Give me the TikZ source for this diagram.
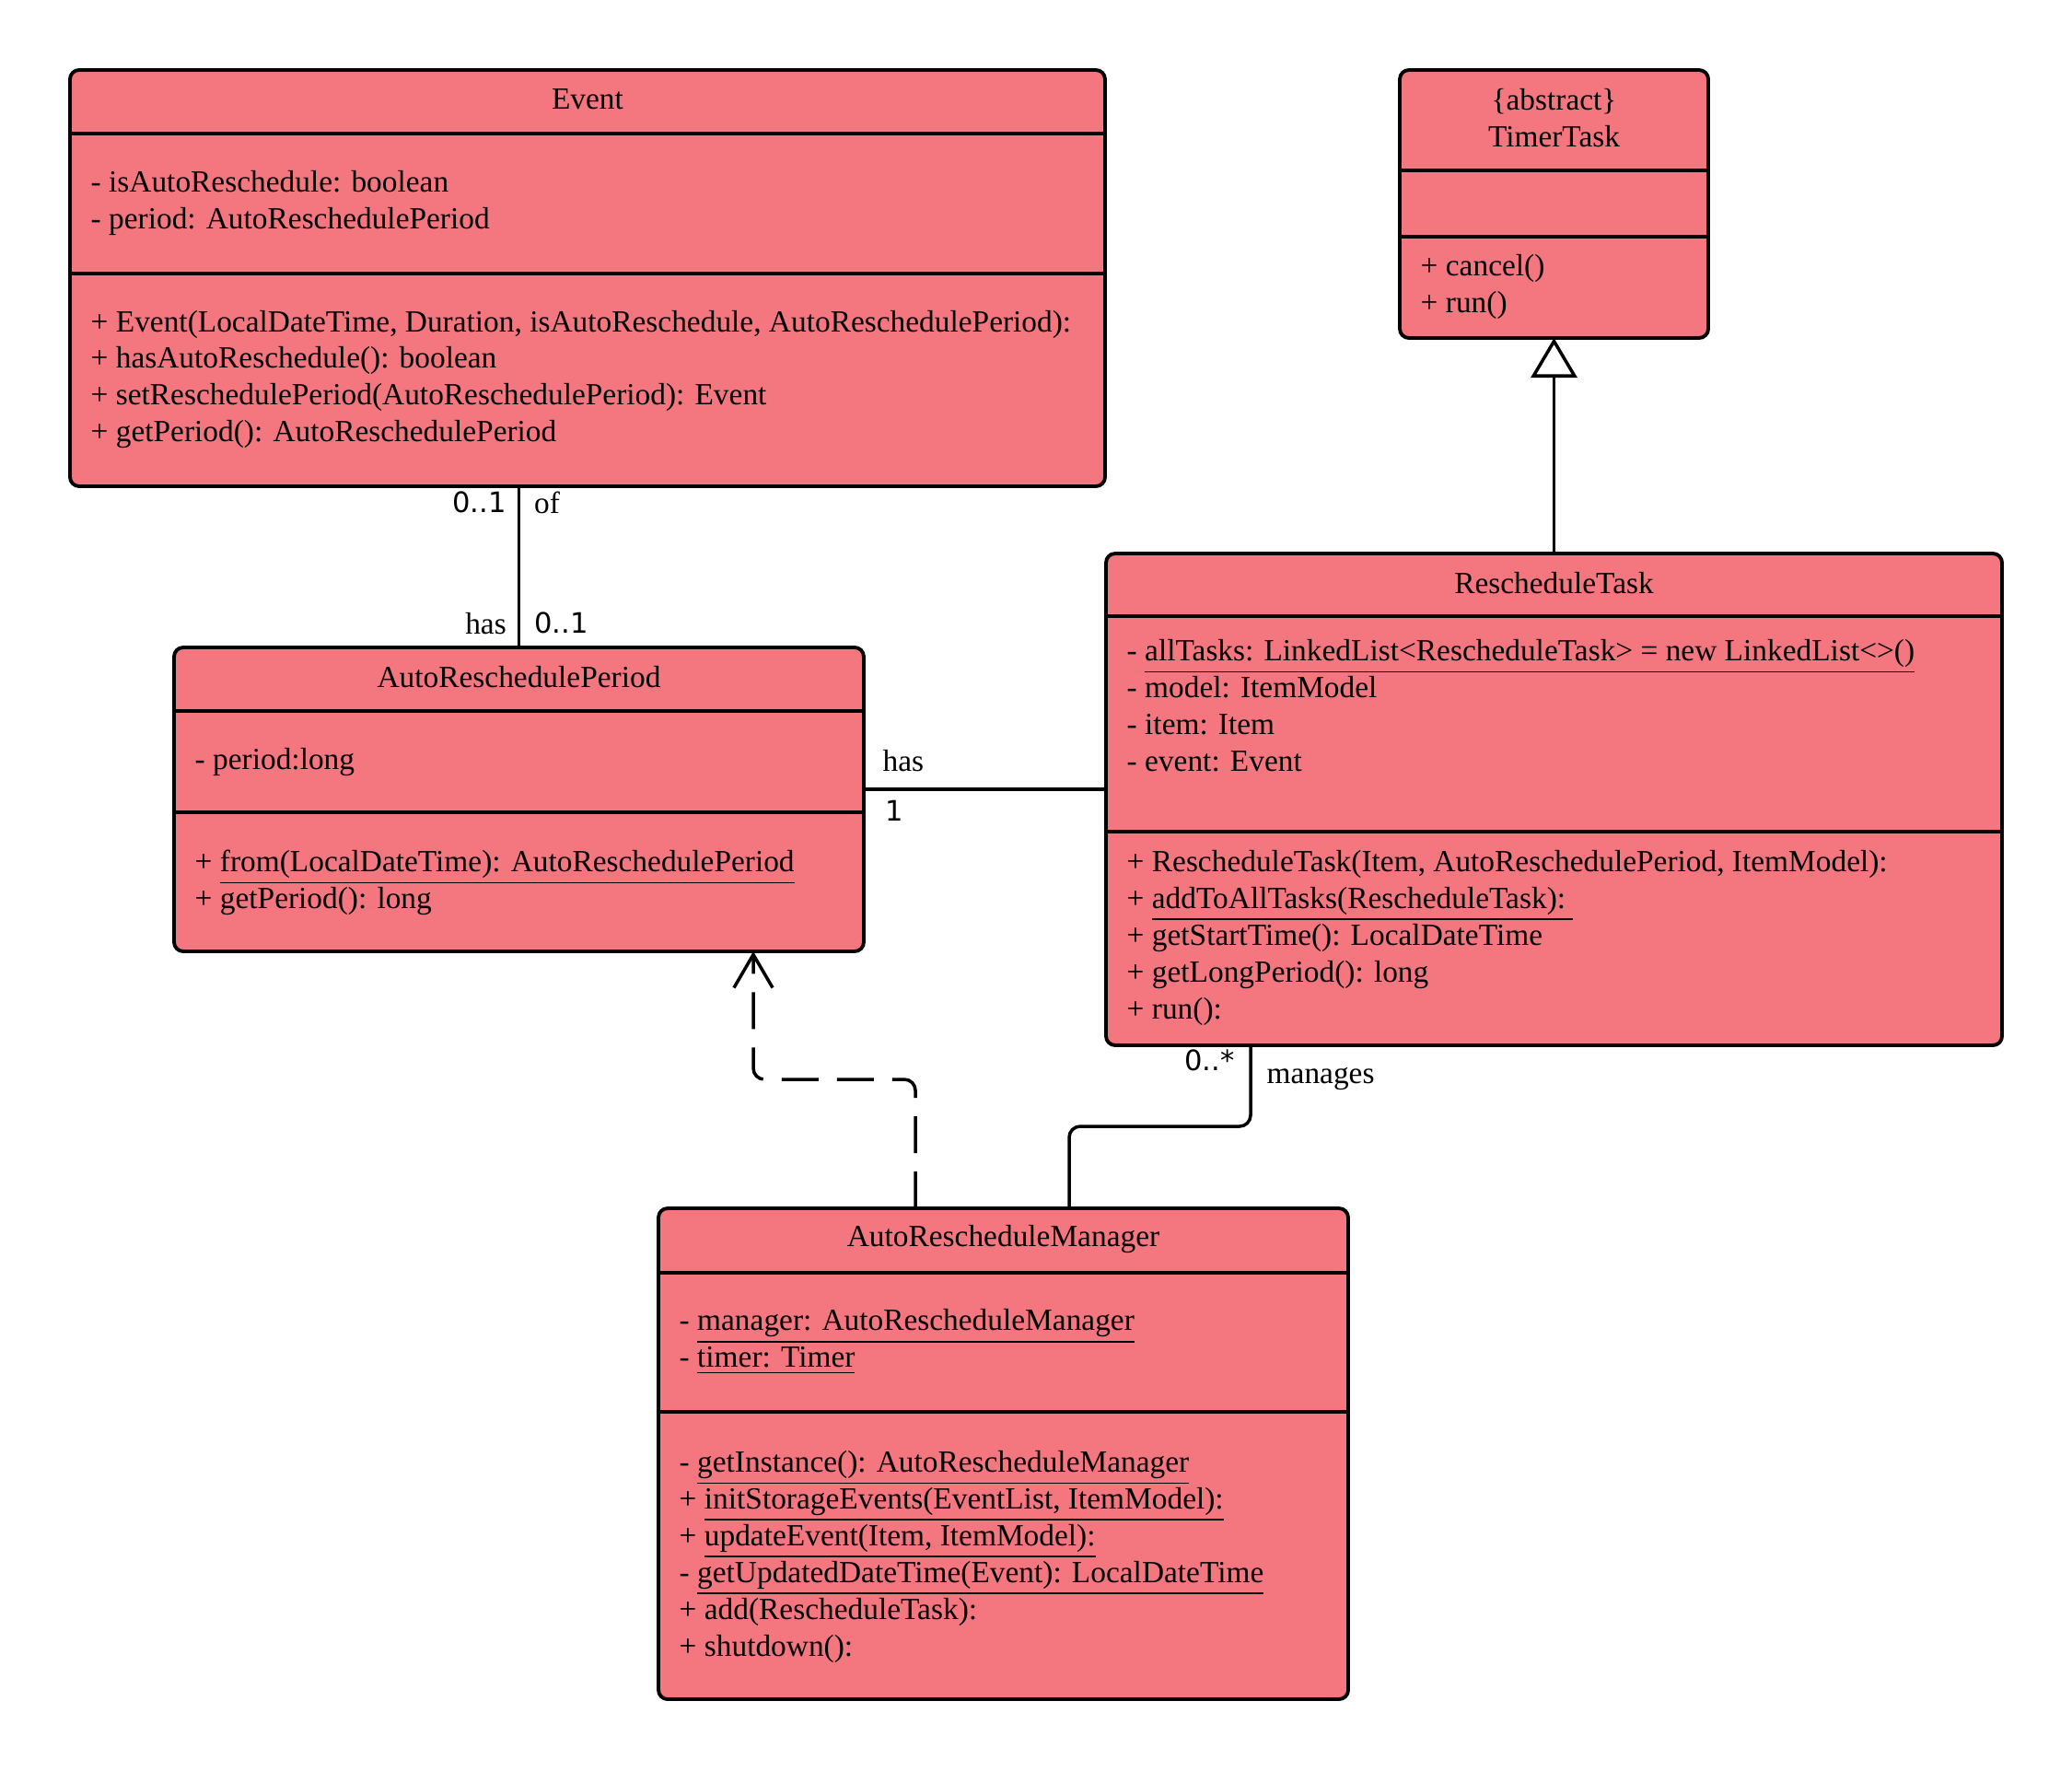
\documentclass[tikz,border=0pt]{standalone}
\usepackage{fontspec}
\setmainfont{Liberation Serif}
\newfontfamily\multfont{DejaVu Sans}
\usepackage{xcolor}
\usepackage{tikz}
\usetikzlibrary{positioning, arrows.meta, calc}

\definecolor{umlred}{RGB}{244,119,128}
\newcommand{\umlfont}{\fontsize{9.5}{11.38}\selectfont}

\begin{document}
\begin{tikzpicture}[
	% --- ESTILOS ---
	classbox/.style={
		rectangle, draw, line width=1.1pt, rounded corners=0.1cm, fill=umlred,
		inner sep=0pt, outer sep=0pt
	},
	divider/.style={
		draw, line width=1pt
	},
	titletext/.style={
		font=\umlfont, align=center, inner sep=0pt, yshift=-0.02cm
	},
	membertext/.style={
		font=\umlfont, align=left, inner sep=0pt, anchor=west, yshift=-0.03cm
	},
	line/.style={
		draw, line width=1pt, rounded corners=0.12cm
	},
	depline/.style={
		line, dash pattern=on 0.4cm off 0.2cm, -{Straight Barb[length=0.36cm, width=0.42cm]}
	},
	inherit/.style={
		line, -{Triangle[open, length=0.43cm, width=0.50cm]}
	},
	rolelabel/.style={
		font=\umlfont, inner sep=0pt
	},
	multlabel/.style={
		font=\multfont\fontsize{8.7}{11}\selectfont, inner sep=0pt
	}
	]
	
	\useasboundingbox (0,0) rectangle (22.5,-19.22);
	
	% ==========================================
	% 1. Event
	% ==========================================
	\node [classbox, minimum width=11.24cm, minimum height=4.52cm] (event) at (6.38,-3.02) {};
	\draw [divider] ($(event.north west)+(0,-0.69)$) -- ($(event.north east)+(0,-0.69)$);
	\draw [divider] ($(event.north west)+(0,-2.21)$) -- ($(event.north east)+(0,-2.21)$);
	\node [titletext] (event_title) at ($(event.north)+(0,-0.30)$) {Event};
	\node [membertext] (event_attr) at ($(event.north west)+(0.22,-1.41)$) {%
		- isAutoReschedule: boolean\\
		- period: AutoReschedulePeriod};
	\node [membertext] (event_ops) at ($(event.north west)+(0.22,-3.33)$) {%
		+ Event(LocalDateTime, Duration, isAutoReschedule, AutoReschedulePeriod):\\
		+ hasAutoReschedule(): boolean\\
		+ setReschedulePeriod(AutoReschedulePeriod): Event\\
		+ getPeriod(): AutoReschedulePeriod};
	
	% ==========================================
	% 2. TimerTask (abstract)
	% ==========================================
	\node [classbox, minimum width=3.35cm, minimum height=2.91cm] (timer_task) at (16.875,-2.215) {};
	\draw [divider] ($(timer_task.north west)+(0,-1.09)$) -- ($(timer_task.north east)+(0,-1.09)$);
	\draw [divider] ($(timer_task.north west)+(0,-1.81)$) -- ($(timer_task.north east)+(0,-1.81)$);
	\node [titletext] (timer_title) at ($(timer_task.north)+(0,-0.50)$) {\{abstract\}\\TimerTask};
	\node [membertext] (timer_ops) at ($(timer_task.north west)+(0.22,-2.325)$) {%
		+ cancel()\\
		+ run()};
	
	% ==========================================
	% 3. RescheduleTask
	% ==========================================
	\node [classbox, minimum width=9.73cm, minimum height=5.34cm] (resched_task) at (16.875,-8.68) {};
	\draw [divider] ($(resched_task.north west)+(0,-0.68)$) -- ($(resched_task.north east)+(0,-0.68)$);
	\draw [divider] ($(resched_task.north west)+(0,-3.02)$) -- ($(resched_task.north east)+(0,-3.02)$);
	\node [titletext] (resched_title) at ($(resched_task.north)+(0,-0.30)$) {RescheduleTask};
	\node [membertext] (resched_attr) at ($(resched_task.north west)+(0.22,-1.62)$) {%
		- \underline{allTasks: LinkedList<RescheduleTask> = new LinkedList<>()}\\
		- model: ItemModel\\
		- item: Item\\
		- event: Event};
	\node [membertext] (resched_ops) at ($(resched_task.north west)+(0.22,-4.14)$) {%
		+ RescheduleTask(Item, AutoReschedulePeriod, ItemModel):\\
		+ \underline{addToAllTasks(RescheduleTask):\ }\\
		+ getStartTime(): LocalDateTime\\
		+ getLongPeriod(): long\\
		+ run():};
	
	% ==========================================
	% 4. AutoReschedulePeriod
	% ==========================================
	\node [classbox, minimum width=7.49cm, minimum height=3.30cm] (auto_period) at (5.635,-8.68) {};
	\draw [divider] ($(auto_period.north west)+(0,-0.69)$) -- ($(auto_period.north east)+(0,-0.69)$);
	\draw [divider] ($(auto_period.north west)+(0,-1.79)$) -- ($(auto_period.north east)+(0,-1.79)$);
	\node [titletext] (period_title) at ($(auto_period.north)+(0,-0.30)$) {AutoReschedulePeriod};
	\node [membertext] (period_attr) at ($(auto_period.north west)+(0.22,-1.21)$) {- period:long};
	\node [membertext] (period_ops) at ($(auto_period.north west)+(0.22,-2.52)$) {%
		+ \underline{from(LocalDateTime): AutoReschedulePeriod}\\
		+ getPeriod(): long};
	
	% ==========================================
	% 5. AutoRescheduleManager
	% ==========================================
	\node [classbox, minimum width=7.49cm, minimum height=5.33cm] (auto_manager) at (10.895,-15.785) {};
	\draw [divider] ($(auto_manager.north west)+(0,-0.70)$) -- ($(auto_manager.north east)+(0,-0.70)$);
	\draw [divider] ($(auto_manager.north west)+(0,-2.21)$) -- ($(auto_manager.north east)+(0,-2.21)$);
	\node [titletext] (manager_title) at ($(auto_manager.north)+(0,-0.31)$) {AutoRescheduleManager};
	\node [membertext] (manager_attr) at ($(auto_manager.north west)+(0.22,-1.42)$) {%
		- \underline{manager: AutoRescheduleManager}\\
		- \underline{timer: Timer}};
	\node [membertext] (manager_ops) at ($(auto_manager.north west)+(0.22,-3.75)$) {%
		- \underline{getInstance(): AutoRescheduleManager}\\
		+ \underline{initStorageEvents(EventList, ItemModel):}\\
		+ \underline{updateEvent(Item, ItemModel):}\\
		- \underline{getUpdatedDateTime(Event): LocalDateTime}\\
		+ add(RescheduleTask):\\
		+ shutdown():};
	
	% ==========================================
	% 6. Relaciones
	% ==========================================
	% Event -- AutoReschedulePeriod
	\coordinate (event_foot) at (auto_period.north |- event.south);
	\draw [line] (event_foot) -- (auto_period.north);
	\node [multlabel, anchor=east] (mult_event_top) at ($(event_foot)+(-0.13,-0.17)$) {0..1};
	\node [rolelabel, anchor=west] (role_of) at ($(event_foot)+(0.16,-0.18)$) {of};
	\node [rolelabel, anchor=east] (role_has_top) at ($(auto_period.north)+(-0.13,0.26)$) {has};
	\node [multlabel, anchor=west] (mult_event_bottom) at ($(auto_period.north)+(0.16,0.27)$) {0..1};
	
	% AutoReschedulePeriod -- RescheduleTask
	\coordinate (has_level) at (0,-8.57);
	\draw [line] (auto_period.east |- has_level) -- (resched_task.west |- has_level);
	\node [rolelabel, anchor=west] (role_has_right) at ($(auto_period.east |- has_level)+(0.20,0.31)$) {has};
	\node [multlabel, anchor=west] (mult_period) at ($(auto_period.east |- has_level)+(0.23,-0.23)$) {1};
	
	% RescheduleTask --|> TimerTask
	\draw [inherit] (resched_task.north) -- (timer_task.south);
	
	% AutoRescheduleManager ..> AutoReschedulePeriod
	\draw [depline] ($(auto_manager.north)+(-0.955,0)$) -- ++(0,1.40) -| ($(auto_period.south)+(2.545,0)$);
	
	% AutoRescheduleManager -- RescheduleTask
	\coordinate (manages_end) at ($(resched_task.south)+(-3.295,0)$);
	\draw [line] ($(auto_manager.north)+(0.715,0)$) -- ++(0,0.89) -| (manages_end);
	\node [multlabel, anchor=east] (mult_manages) at ($(manages_end)+(-0.17,-0.16)$) {0..*};
	\node [rolelabel, anchor=west] (role_manages) at ($(manages_end)+(0.17,-0.37)$) {manages};
	
\end{tikzpicture}
\end{document}
